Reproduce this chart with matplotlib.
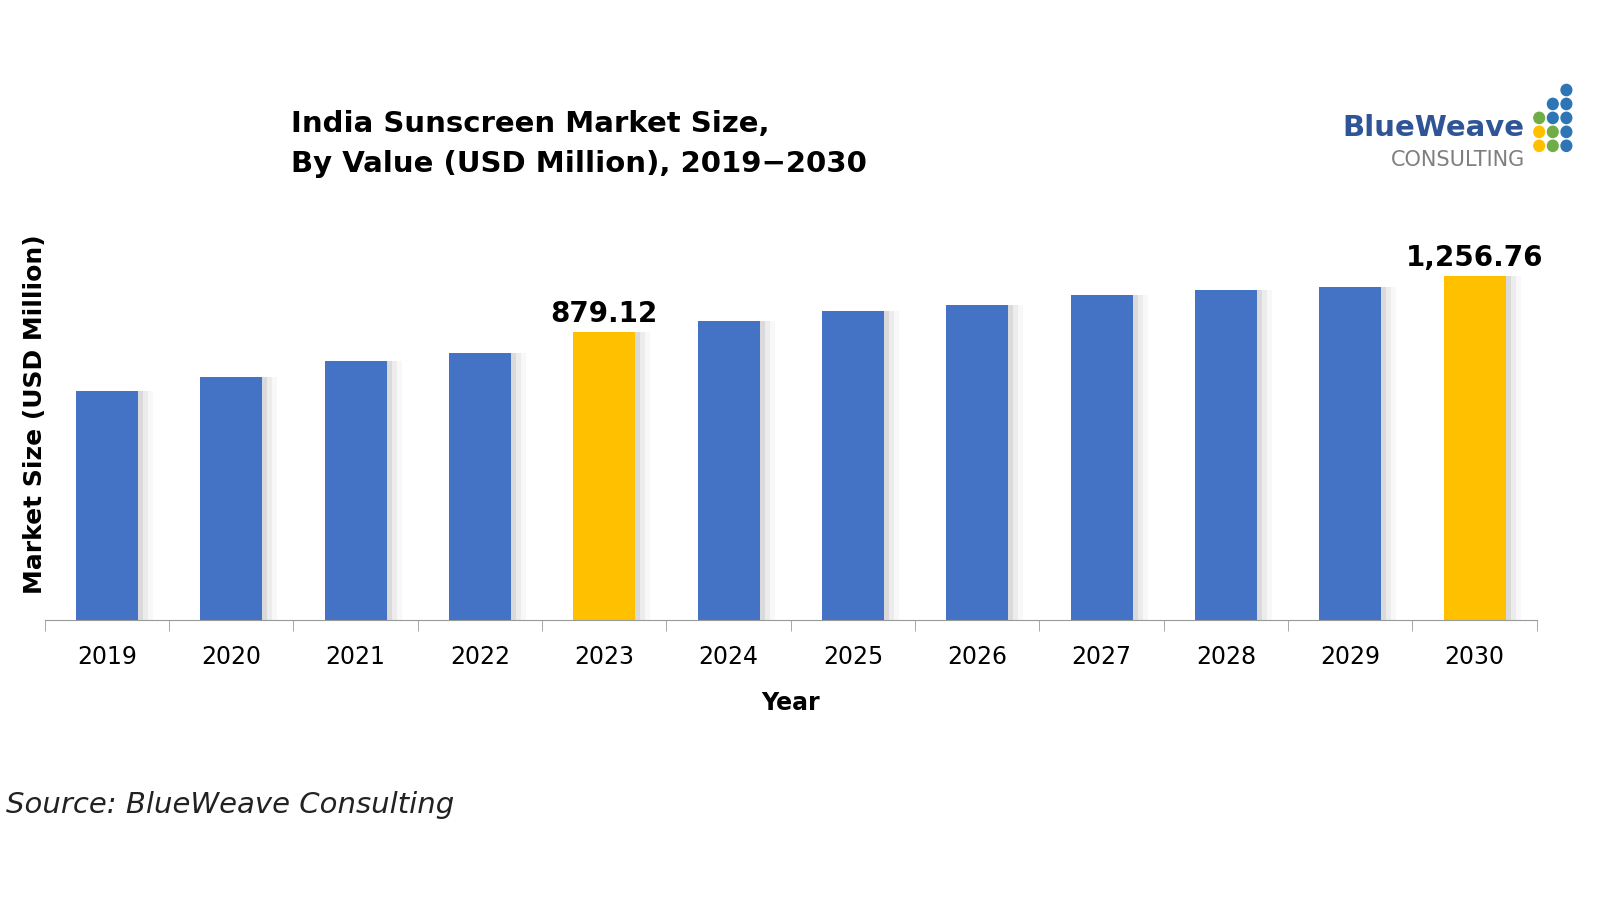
import matplotlib.pyplot as plt
from matplotlib.patches import Ellipse
import numpy as np

years = ["2019", "2020", "2021", "2022", "2023", "2024", "2025", "2026", "2027", "2028", "2029", "2030"]
values = [481, 576, 684, 738, 879.12, 953, 1021, 1061, 1129, 1162, 1183, 1256.76]
highlight = ["2023", "2030"]
labels = {"2023": "879.12", "2030": "1,256.76"}

# the source chart's value axis is not zero-based; this is its implied floor
floor = -1063
top = 1769

blue = "#4472C4"
gold = "#FFC000"

fig = plt.figure(figsize=(16, 9), dpi=100)
ax = fig.add_axes([0.028, 0.311, 0.9325, 0.467])
x = np.arange(len(years))
heights = [v - floor for v in values]

# soft drop shadow to the right of each bar
for k, a in enumerate([0.16, 0.10, 0.05]):
    ax.bar(x + 0.04 + 0.04 * k, heights, 0.5, bottom=floor, color="gray", alpha=a, zorder=1)
colors = [gold if y in highlight else blue for y in years]
ax.bar(x, heights, 0.5, bottom=floor, color=colors, zorder=2)

for i, y in enumerate(years):
    if y in labels:
        ax.text(i, values[i] + 25, labels[y], ha="center", va="bottom",
                fontsize=20, fontweight="bold", family="DejaVu Sans")

ax.set_xlim(-0.5, len(years) - 0.5)
ax.set_ylim(floor, top)
ax.set_yticks([])
ax.set_xticks(x)
ax.set_xticklabels(years, fontsize=17)
ax.tick_params(axis="x", which="major", length=0, pad=18)
ax.set_xticks(np.arange(-0.5, len(years)), minor=True)
ax.tick_params(axis="x", which="minor", length=8, color="#999999")
for s in ["top", "right", "left"]:
    ax.spines[s].set_visible(False)
ax.spines["bottom"].set_color("#999999")
ax.set_xlabel("Year", fontsize=17, fontweight="bold", labelpad=16)
fig.text(0.022, 0.54, "Market Size (USD Million)", rotation=90, ha="center", va="center",
         fontsize=18, fontweight="bold")

fig.text(0.182, 0.84, "India Sunscreen Market Size,\nBy Value (USD Million), 2019\u22122030",
         fontsize=21, fontweight="bold", va="center", linespacing=1.5)
fig.text(0.004, 0.097, "Source: BlueWeave Consulting", fontsize=21, style="italic", color="#222222")

# logo
fig.text(0.953, 0.858, "BlueWeave", ha="right", va="center", fontsize=21, fontweight="bold", color="#2F5597")
fig.text(0.953, 0.822, "CONSULTING", ha="right", va="center", fontsize=15, color="#7F7F7F")
dot_colors = [["white", "white", "#2E75B6"], ["white", "#2E75B6", "#2E75B6"],
              ["#70AD47", "#2E75B6", "#2E75B6"], ["#FFC000", "#70AD47", "#2E75B6"],
              ["#FFC000", "#70AD47", "#2E75B6"]]
for r, row in enumerate(dot_colors):
    for c, col in enumerate(row):
        if col != "white":
            fig.patches.append(Ellipse((0.962 + c * 0.0085, 0.9 - r * 0.0155), 0.0085 * 9 / 16 * 1.4,
                                       0.0125, transform=fig.transFigure, color=col))

fig.savefig("out.png", dpi=100)
